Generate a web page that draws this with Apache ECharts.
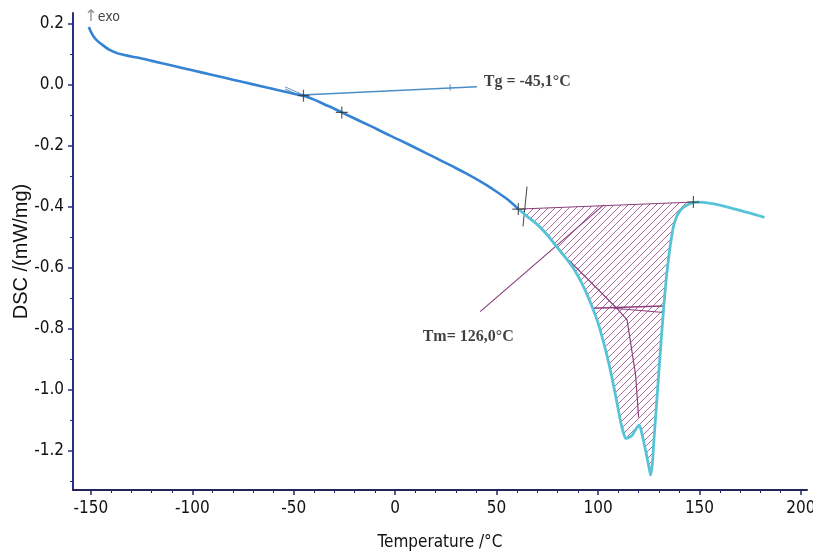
<!DOCTYPE html>
<html>
<head>
<meta charset="utf-8">
<script src="https://cdn.jsdelivr.net/npm/echarts@6/dist/echarts.min.js"></script>
<style>
html, body { margin: 0; padding: 0; background: #fff; }
#chart { width: 813px; height: 552px; }
</style>
</head>
<body>
<div id="chart"></div>
<script>
// DSC curve: [temperature °C, DSC mW/mg]
var curveBlue = [
    [-151, 0.19], [-149.5, 0.168], [-148, 0.153], [-146.5, 0.143], [-145, 0.135], [-143, 0.125],
    [-141, 0.116], [-138, 0.107], [-135, 0.1005], [-130, 0.0935], [-125, 0.0865], [-120, 0.079],
    [-110, 0.0636], [-100, 0.0482], [-90, 0.0328], [-80, 0.0174], [-70, 0.002], [-60, -0.0134],
    [-50, -0.0288], [-45.2, -0.035], [-40, -0.048], [-35, -0.063], [-30, -0.078], [-26.3, -0.09],
    [-20, -0.11], [-12, -0.135], [-5.9, -0.155], [2, -0.18], [10.9, -0.209], [19, -0.236],
    [27.1, -0.263], [35, -0.29], [42, -0.316], [48, -0.341], [54.3, -0.37], [57.5, -0.387],
    [60.7, -0.407]
];
var curveCyan = [
    [60.7, -0.407], [64, -0.425], [70, -0.457], [75, -0.492], [79.8, -0.532], [84, -0.566],
    [88.1, -0.603], [92, -0.65], [96.3, -0.714], [100, -0.78], [102.9, -0.848], [105.5, -0.918],
    [107.8, -0.99], [109.5, -1.048], [111.1, -1.103], [112.5, -1.14], [113.6, -1.159], [115, -1.157],
    [116.9, -1.148], [118.5, -1.13], [120.2, -1.115], [121, -1.126], [121.8, -1.148], [123.5, -1.2],
    [125, -1.25], [125.9, -1.279], [126.8, -1.24], [127.6, -1.16], [128.8, -1.05], [130, -0.939],
    [131.2, -0.83], [132.5, -0.719], [133.7, -0.63], [135, -0.556], [136.2, -0.5], [137.4, -0.458],
    [139, -0.428], [140.7, -0.41], [143, -0.397], [145.7, -0.388], [149, -0.384], [152, -0.385],
    [157.2, -0.39], [162, -0.397], [167, -0.406], [172, -0.415], [177, -0.424], [182, -0.434]
];

// integration baseline of the melting peak
var peakBaseline = [[60.7, -0.407], [147, -0.384]];

// evaluation marks (+)
var crossPoints = [[-45.2, -0.035], [-26.3, -0.09], [60.7, -0.407], [147, -0.384]];

// construction lines
var tgLine = [[-46, -0.033], [40.3, -0.006]];
var tgTick = [[27.1, 0.002], [27.1, -0.018]];
var tgWedgeA = [[-54.3, -0.006], [-45.2, -0.033]];
var tgWedgeB = [[-54.3, -0.013], [-45.2, -0.04]];
var onsetTick = [[65, -0.333], [63, -0.464]];
var tangentLine = [[41.9, -0.743], [102.8, -0.393]];
var innerLine = [[85.5, -0.574], [108.5, -0.727], [114.3, -0.77], [118.5, -0.95], [120, -1.09]];
var levelLineA = [[97, -0.732], [132.4, -0.725]];
var levelLineB = [[107.7, -0.732], [132.4, -0.746]];

// axes
var xTicks = [-150, -100, -50, 0, 50, 100, 150, 200];
var xMinor = [-140, -130, -120, -110, -90, -80, -70, -60, -40, -30, -20, -10, 10, 20, 30, 40,
    60, 70, 80, 90, 110, 120, 130, 140, 160, 170, 180, 190];
var yTicks = [-1.2, -1.0, -0.8, -0.6, -0.4, -0.2, 0.0, 0.2];
var yMinor = [-1.3, -1.1, -0.9, -0.7, -0.5, -0.3, -0.1, 0.1];

// labels
var annotations = [
    { value: [-153.5, 0.222], text: '{a|↑}{b|exo}' },
    { value: [43.4, 0.01], text: '{t|Tg = -45,1°C}' },
    { value: [13.3, -0.826], text: '{t|Tm= 126,0°C}' }
];

var narrow = "'Liberation Sans Narrow', 'DejaVu Sans Condensed', 'Liberation Sans', sans-serif";
var axisColor = '#25255e';
var purple = '#8d3f7d';

var hatch = document.createElement('canvas');
hatch.width = 7;
hatch.height = 7;
var hg = hatch.getContext('2d');
hg.strokeStyle = '#a35a93';
hg.lineWidth = 0.9;
hg.beginPath();
hg.moveTo(0, 7); hg.lineTo(7, 0);
hg.moveTo(-1, 1); hg.lineTo(1, -1);
hg.moveTo(6, 8); hg.lineTo(8, 6);
hg.stroke();

var hatchEdge = [peakBaseline[0]];
curveCyan.forEach(function (p) {
    if (p[0] > peakBaseline[0][0] && p[0] < peakBaseline[1][0]) hatchEdge.push(p);
});
hatchEdge.push(peakBaseline[1]);

function guide(data, color, width) {
    return {
        type: 'line', data: data, symbol: 'none', silent: true, z: 4,
        lineStyle: { color: color, width: width }
    };
}

var chart = echarts.init(document.getElementById('chart'));
chart.setOption({
    animation: false,
    backgroundColor: '#fff',
    grid: { left: 73, right: 6, top: 13, bottom: 62, outerBoundsMode: 'none' },
    xAxis: [{
        type: 'value', min: -158.8, max: 203, position: 'bottom',
        axisLine: { onZero: false, lineStyle: { color: axisColor, width: 2 } },
        axisTick: { customValues: xTicks, length: 5, lineStyle: { color: axisColor, width: 1.5 } },
        axisLabel: { customValues: xTicks, margin: 10, color: '#111', fontSize: 17, fontFamily: narrow },
        splitLine: { show: false },
        name: 'Temperature /°C', nameLocation: 'middle', nameGap: 44, nameMoveOverlap: false,
        nameTextStyle: { color: '#111', fontSize: 17, fontFamily: narrow }
    }, {
        type: 'value', min: -158.8, max: 203, position: 'bottom',
        axisLine: { show: false, onZero: false },
        axisTick: { customValues: xMinor, length: 3, lineStyle: { color: axisColor } },
        axisLabel: { show: false },
        splitLine: { show: false }
    }],
    yAxis: [{
        type: 'value', min: -1.328, max: 0.236, position: 'left',
        axisLine: { show: true, onZero: false, lineStyle: { color: '#2e2e80', width: 2 } },
        axisTick: { show: true, customValues: yTicks, length: 5, lineStyle: { color: '#2e2e80', width: 1.5 } },
        axisLabel: {
            customValues: yTicks, margin: 9, color: '#111', fontSize: 17, fontFamily: narrow,
            formatter: function (v) { return v.toFixed(1); }
        },
        splitLine: { show: false },
        name: 'DSC /(mW/mg)', nameLocation: 'middle', nameGap: 42, nameMoveOverlap: false,
        nameTextStyle: { color: '#111', fontSize: 20, fontFamily: "'Liberation Sans', Arial, sans-serif" }
    }, {
        type: 'value', min: -1.328, max: 0.236, position: 'left',
        axisLine: { show: false, onZero: false },
        axisTick: { show: true, customValues: yMinor, length: 3, lineStyle: { color: '#2e2e80' } },
        axisLabel: { show: false },
        splitLine: { show: false }
    }],
    series: [
        {
            type: 'custom', data: [[0, 0]], clip: false, silent: true, z: 1,
            renderItem: function (params, api) {
                return {
                    type: 'polygon',
                    shape: { points: hatchEdge.map(function (p) { return api.coord(p); }) },
                    style: { fill: { image: hatch, repeat: 'repeat' }, stroke: purple, lineWidth: 1 }
                };
            }
        },
        guide(tgWedgeA, '#6f8fb5', 1),
        guide(tgWedgeB, '#6f8fb5', 1),
        guide(tgLine, '#4d8cc4', 1.5),
        guide(tgTick, '#4d8cc4', 1),
        guide(onsetTick, '#444', 1),
        guide(tangentLine, purple, 1.2),
        guide(innerLine, purple, 1.2),
        guide(levelLineA, purple, 1.5),
        guide(levelLineB, purple, 1.2),
        {
            type: 'line', data: curveBlue, symbol: 'none', smooth: 0.5, z: 5,
            lineStyle: { color: '#3584d3', width: 2.6 }
        },
        {
            type: 'line', data: curveCyan, symbol: 'none', smooth: 0.2, z: 5,
            lineStyle: { color: '#56c4d6', width: 2.8 }
        },
        {
            type: 'scatter', data: crossPoints, z: 6, silent: true,
            symbol: 'path://M0,4.5L10,4.5L10,5.5L0,5.5Z M4.5,0L5.5,0L5.5,10L4.5,10Z',
            symbolSize: 12, itemStyle: { color: '#333' }
        },
        {
            type: 'scatter', z: 7, silent: true, symbolSize: 1,
            itemStyle: { color: 'rgba(0,0,0,0)' },
            data: annotations.map(function (a) { return { value: a.value, text: a.text }; }),
            label: {
                show: true, position: 'right', distance: 0,
                formatter: function (p) { return p.data.text; },
                rich: {
                    a: { color: '#777', fontSize: 16, fontFamily: "'DejaVu Sans', sans-serif" },
                    b: { color: '#111', fontSize: 14, fontFamily: narrow },
                    t: { color: '#111', fontSize: 16, fontWeight: 'bold', fontFamily: "'Liberation Serif', 'Times New Roman', serif" }
                }
            }
        }
    ]
});
</script>
</body>
</html>
